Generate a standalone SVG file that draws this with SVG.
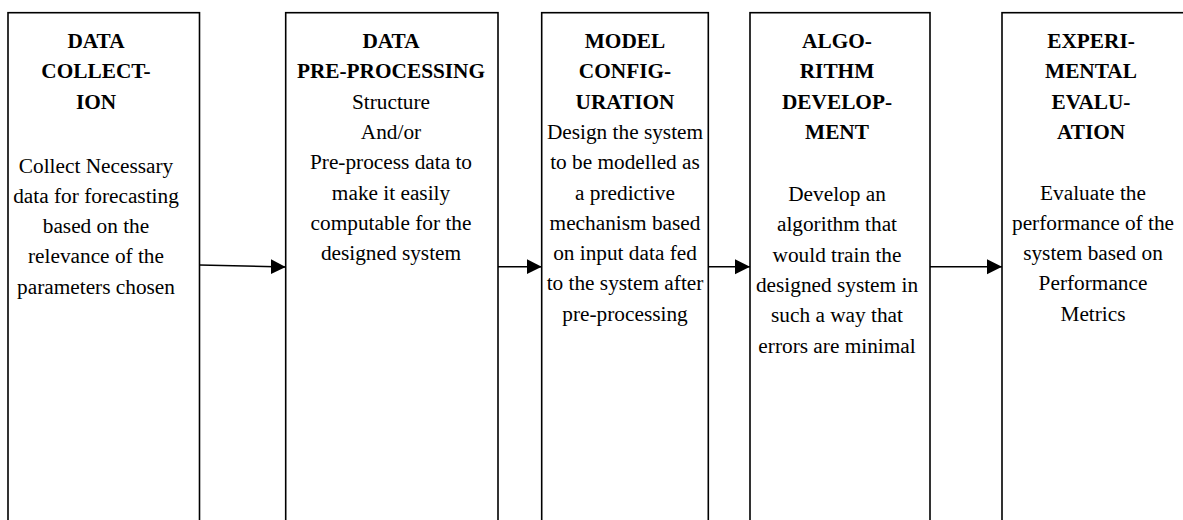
<svg xmlns="http://www.w3.org/2000/svg" width="1183" height="520" viewBox="0 0 1183 520">
<style>
.box{fill:#fff;stroke:#000;stroke-width:1.6}
.t{font-family:"Liberation Serif","Times New Roman",serif;font-size:21.3px;fill:#000;text-anchor:middle}
.b{font-weight:bold}
.c{stroke:#000;stroke-width:1.6;fill:none}
</style>
<defs>
<marker id="ah" markerUnits="userSpaceOnUse" markerWidth="16" markerHeight="16" refX="15" refY="7.5" orient="auto">
<path d="M0,0 L15,7.5 L0,15 Z" fill="#000"/>
</marker>
</defs>
<rect width="1183" height="520" fill="#fff"/>
<g id="n1">
<rect class="box" x="8" y="12.7" width="191.5" height="520"/>
<text class="t b" x="96"><tspan x="96" y="48">DATA</tspan><tspan x="96" y="78.3">COLLECT-</tspan><tspan x="96" y="108.6">ION</tspan></text>
<text class="t" x="96"><tspan x="96" y="172.5">Collect Necessary</tspan><tspan x="96" y="202.8">data for forecasting</tspan><tspan x="96" y="233.1">based on the</tspan><tspan x="96" y="263.4">relevance of the</tspan><tspan x="96" y="293.7">parameters chosen</tspan></text>
</g>
<g id="n2">
<rect class="box" x="285.7" y="12.7" width="212.3" height="520"/>
<text class="t b"><tspan x="391" y="48">DATA</tspan><tspan x="391" y="78.3">PRE-PROCESSING</tspan></text>
<text class="t"><tspan x="391" y="108.6">Structure</tspan><tspan x="391" y="138.9">And/or</tspan><tspan x="391" y="169.2">Pre-process data to</tspan><tspan x="391" y="199.5">make it easily</tspan><tspan x="391" y="229.8">computable for the</tspan><tspan x="391" y="260.1">designed system</tspan></text>
</g>
<g id="n3">
<rect class="box" x="541.7" y="12.7" width="166.6" height="520"/>
<text class="t b"><tspan x="625" y="48">MODEL</tspan><tspan x="625" y="78.3">CONFIG-</tspan><tspan x="625" y="108.6">URATION</tspan></text>
<text class="t"><tspan x="625" y="138.9">Design the system</tspan><tspan x="625" y="169.2">to be modelled as</tspan><tspan x="625" y="199.5">a predictive</tspan><tspan x="625" y="229.8">mechanism based</tspan><tspan x="625" y="260.1">on input data fed</tspan><tspan x="625" y="290.4">to the system after</tspan><tspan x="625" y="320.7">pre-processing</tspan></text>
</g>
<g id="n4">
<rect class="box" x="750" y="12.7" width="180" height="520"/>
<text class="t b"><tspan x="837" y="48">ALGO-</tspan><tspan x="837" y="78.3">RITHM</tspan><tspan x="837" y="108.6">DEVELOP-</tspan><tspan x="837" y="138.9">MENT</tspan></text>
<text class="t"><tspan x="837" y="201">Develop an</tspan><tspan x="837" y="231.3">algorithm that</tspan><tspan x="837" y="261.6">would train the</tspan><tspan x="837" y="291.9">designed system in</tspan><tspan x="837" y="322.2">such a way that</tspan><tspan x="837" y="352.5">errors are minimal</tspan></text>
</g>
<g id="n5">
<rect class="box" x="1002" y="12.7" width="200" height="520"/>
<text class="t b"><tspan x="1091" y="48">EXPERI-</tspan><tspan x="1091" y="78.3">MENTAL</tspan><tspan x="1091" y="108.6">EVALU-</tspan><tspan x="1091" y="138.9">ATION</tspan></text>
<text class="t"><tspan x="1093" y="199.5">Evaluate the</tspan><tspan x="1093" y="229.8">performance of the</tspan><tspan x="1093" y="260.1">system based on</tspan><tspan x="1093" y="290.4">Performance</tspan><tspan x="1093" y="320.7">Metrics</tspan></text>
</g>
<g id="connectors">
<line class="c" x1="199.5" y1="265" x2="285.7" y2="267" marker-end="url(#ah)"/>
<line class="c" x1="498" y1="266.7" x2="541.7" y2="266.7" marker-end="url(#ah)"/>
<line class="c" x1="708.3" y1="266.7" x2="750" y2="266.7" marker-end="url(#ah)"/>
<line class="c" x1="930" y1="266.7" x2="1002" y2="266.7" marker-end="url(#ah)"/>
</g>
</svg>
